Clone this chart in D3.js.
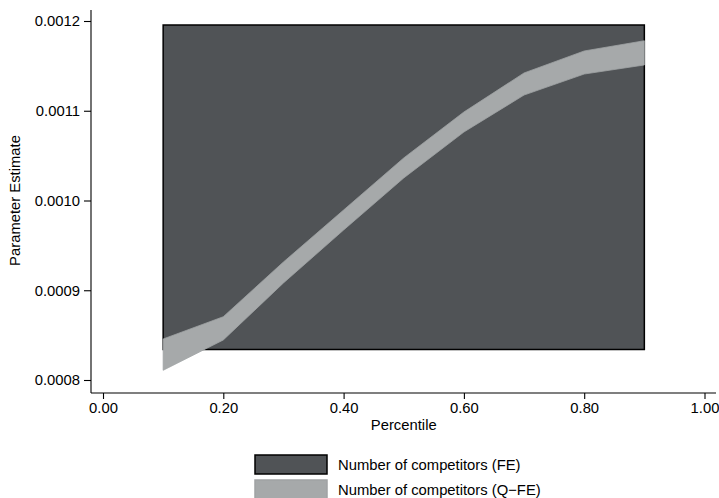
<!DOCTYPE html>
<html>
<head>
<meta charset="utf-8">
<script src="https://cdn.jsdelivr.net/npm/d3@7"></script>
<style>
  html, body { margin: 0; padding: 0; background: #fff; }
  svg { display: block; font-family: "Liberation Sans", Arial, sans-serif; }
</style>
</head>
<body>
<svg id="chart" width="719" height="498"></svg>
<script>
// ---- data ----
const percentiles = [0.1, 0.2, 0.3, 0.4, 0.5, 0.6, 0.7, 0.8, 0.9];
const feLower = [0.000834, 0.000834, 0.000834, 0.000834, 0.000834, 0.000834, 0.000834, 0.000834, 0.000834];
const feUpper = [0.0011955, 0.0011955, 0.0011955, 0.0011955, 0.0011955, 0.0011955, 0.0011955, 0.0011955, 0.0011955];
const qfeLower = [0.0008108, 0.0008446, 0.0009081, 0.0009671, 0.0010251, 0.0010763, 0.0011175, 0.0011409, 0.001151];
const qfeUpper = [0.0008457, 0.0008705, 0.0009315, 0.0009894, 0.0010474, 0.0010986, 0.0011421, 0.0011666, 0.001178];
const xTicks = [0, 0.2, 0.4, 0.6, 0.8, 1.0];
const yTicks = [0.0008, 0.0009, 0.0010, 0.0011, 0.0012];
const seriesNames = ["Number of competitors (FE)", "Number of competitors (Q\u2212FE)"];
const xTitle = "Percentile";
const yTitle = "Parameter Estimate";

// ---- layout ----
const svg = d3.select("#chart");
const x = d3.scaleLinear().domain([0, 1]).range([103, 704.5]);
const y = d3.scaleLinear().domain([0.0008, 0.0012]).range([380, 21]);
const axisX = 393, axisY = 91;
const fs = 14.8;

const fe = percentiles.map((p, i) => ({p, lo: feLower[i], hi: feUpper[i]}));
const qfe = percentiles.map((p, i) => ({p, lo: qfeLower[i], hi: qfeUpper[i]}));

const area = d3.area().x(d => x(d.p)).y0(d => y(d.lo)).y1(d => y(d.hi));

svg.append("path").datum(fe).attr("d", area)
  .attr("fill", "#505356").attr("stroke", "#000").attr("stroke-width", 1.5);
svg.append("path").datum(qfe).attr("d", area)
  .attr("fill", "#a6a9aa").attr("stroke", "#a0a3a4").attr("stroke-width", 0.8);

// axes
const gy = svg.append("g").attr("transform", `translate(${axisY},0)`)
  .call(d3.axisLeft(y).tickValues(yTicks).tickFormat(d3.format(".4f")).tickSize(7).tickPadding(4));
gy.select(".domain").attr("d", `M0,10V${axisX}`);
const gx = svg.append("g").attr("transform", `translate(0,${axisX})`)
  .call(d3.axisBottom(x).tickValues(xTicks).tickFormat(d3.format(".2f")).tickSize(6).tickPadding(3));
gx.select(".domain").attr("d", `M${axisY},0H716`);
svg.selectAll(".tick text").attr("font-size", fs).attr("font-family", "Liberation Sans, Arial, sans-serif").attr("fill", "#000");
svg.selectAll(".domain, .tick line").attr("stroke", "#000").attr("stroke-width", 1.1);

// titles
svg.append("text").attr("x", x(0.5)).attr("y", 430).attr("text-anchor", "middle")
  .attr("font-size", fs).text(xTitle);
svg.append("text").attr("transform", `translate(20,${(21 + 380) / 2}) rotate(-90)`)
  .attr("text-anchor", "middle").attr("font-size", fs).text(yTitle);

// legend
const legFill = ["#505356", "#a6a9aa"];
const legStroke = ["#000", "#a0a3a4"];
seriesNames.forEach((name, i) => {
  const yy = 455 + i * 25;
  svg.append("rect").attr("x", 255).attr("y", yy).attr("width", 72).attr("height", 19)
    .attr("fill", legFill[i]).attr("stroke", legStroke[i]).attr("stroke-width", 1.5);
  svg.append("text").attr("x", 338).attr("y", yy + 10).attr("dy", "0.35em")
    .attr("font-size", fs).text(name);
});
</script>
</body>
</html>
